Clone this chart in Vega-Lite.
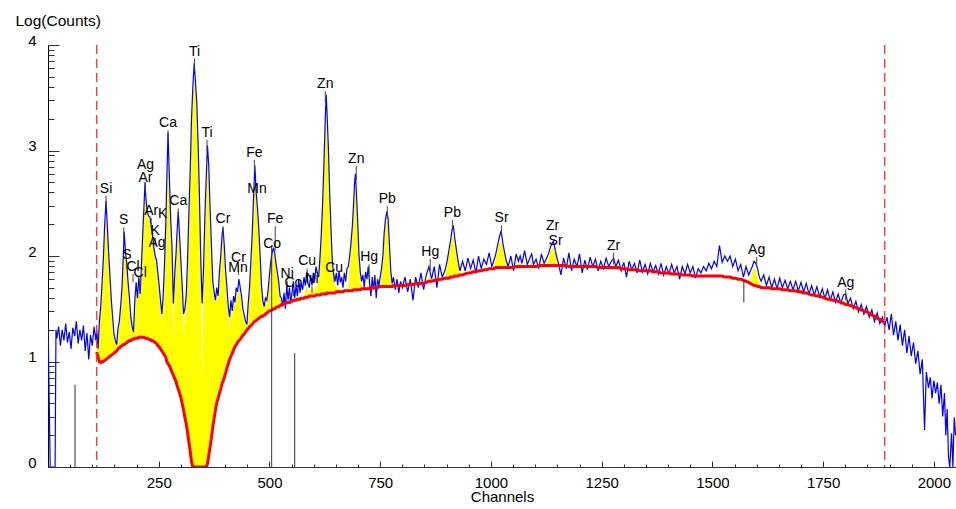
{
"$schema":"https://vega.github.io/schema/vega-lite/v6.json",
"width":908,"height":422,
"autosize":{"type":"none"},
"padding":{"left":48,"top":45,"right":0,"bottom":42},
"background":"white",
"config":{"view":{"stroke":null},"axis":{"grid":false,"labelFont":"Liberation Sans","titleFont":"Liberation Sans"}},
"resolve":{"axis":{"x":"independent","y":"independent"}},
"datasets":{
"spec":[
{"c":0,"s":1.4},{"c":5,"s":0},{"c":16,"s":0},{"c":18,"s":1.3},{"c":20,"s":1.22},{"c":24,"s":1.33},{"c":28,"s":1.15},{"c":32,"s":1.3},{"c":36,"s":1.2},{"c":40,"s":1.36},{"c":44,"s":1.18},{"c":48,"s":1.28},{"c":52,"s":1.12},{"c":56,"s":1.32},{"c":60,"s":1.24},{"c":64,"s":1.38},{"c":68,"s":1.17},{"c":72,"s":1.3},{"c":76,"s":1.2},{"c":80,"s":1.34},{"c":84,"s":1.1},{"c":88,"s":1.27},{"c":92,"s":1.02},{"c":96,"s":1.25},{"c":100,"s":1.15},{"c":104,"s":1.33},{"c":108,"s":1.2},
{"c":110,"s":1.3,"b":1.09,"f":1.3},{"c":113,"s":1.12,"b":1.04,"f":1.12},{"c":116,"s":1.38,"b":1.0,"f":1.3},{"c":119,"s":1.52,"b":0.99,"f":1.48},{"c":122,"s":1.74,"b":1.0,"f":1.7},{"c":125,"s":1.98,"b":1.0,"f":1.95},{"c":128,"s":2.3,"b":1.01,"f":2.25},{"c":131,"s":2.52,"b":1.02,"f":2.42},{"c":134,"s":2.28,"b":1.03,"f":2.25},{"c":137,"s":2.02,"b":1.04,"f":2.0},{"c":140,"s":1.8,"b":1.05,"f":1.78},{"c":143,"s":1.58,"b":1.06,"f":1.55},{"c":146,"s":1.42,"b":1.07,"f":1.38},{"c":149,"s":1.26,"b":1.08,"f":1.25},{"c":152,"s":1.2,"b":1.09,"f":1.18},{"c":155,"s":1.16,"b":1.1,"f":1.15},{"c":158,"s":1.31,"b":1.12,"f":1.28},{"c":161,"s":1.38,"b":1.13,"f":1.35},{"c":164,"s":1.52,"b":1.14,"f":1.5},{"c":167,"s":1.7,"b":1.15,"f":1.68},{"c":170,"s":2.0,"b":1.16,"f":1.95},{"c":172,"s":2.23,"b":1.16,"f":2.12},{"c":175,"s":2.04,"b":1.17,"f":2.0},{"c":178,"s":1.92,"b":1.18,"f":1.88},{"c":181,"s":1.74,"b":1.19,"f":1.72},{"c":184,"s":1.6,"b":1.2,"f":1.55},{"c":187,"s":1.42,"b":1.2,"f":1.4},{"c":190,"s":1.33,"b":1.21,"f":1.3},{"c":193,"s":1.28,"b":1.21,"f":1.27},{"c":196,"s":1.58,"b":1.22,"f":1.55},{"c":199,"s":1.75,"b":1.22,"f":1.7},{"c":202,"s":1.6,"b":1.22,"f":1.58},{"c":205,"s":1.8,"b":1.23,"f":1.75},{"c":208,"s":1.64,"b":1.23,"f":1.62},{"c":211,"s":1.92,"b":1.23,"f":1.9},{"c":214,"s":2.22,"b":1.23,"f":2.18},{"c":217,"s":2.5,"b":1.23,"f":2.45},{"c":219,"s":2.7,"b":1.22,"f":2.6},{"c":221,"s":2.55,"b":1.22,"f":2.5},{"c":224,"s":2.42,"b":1.22,"f":2.38},{"c":227,"s":2.38,"b":1.21,"f":2.35},{"c":230,"s":2.37,"b":1.21,"f":2.33},{"c":233,"s":2.28,"b":1.2,"f":2.25},{"c":236,"s":2.2,"b":1.2,"f":2.18},{"c":239,"s":2.08,"b":1.19,"f":2.05},{"c":242,"s":2.0,"b":1.18,"f":1.97},{"c":245,"s":1.96,"b":1.17,"f":1.93},{"c":248,"s":1.84,"b":1.15,"f":1.8},{"c":251,"s":1.72,"b":1.14,"f":1.68},{"c":254,"s":1.58,"b":1.12,"f":1.5},{"c":257,"s":1.45,"b":1.1,"f":1.38},{"c":260,"s":1.62,"b":1.08,"f":1.58},{"c":263,"s":1.92,"b":1.06,"f":1.9},{"c":266,"s":2.32,"b":1.04,"f":2.3},{"c":268,"s":2.7,"b":1.0,"f":2.65},{"c":271,"s":3.17,"b":0.98,"f":3.08},{"c":274,"s":2.75,"b":0.96,"f":2.72},{"c":277,"s":2.35,"b":0.93,"f":2.32},{"c":280,"s":2.08,"b":0.9,"f":2.02},{"c":283,"s":1.55,"b":0.87,"f":1.2},{"c":286,"s":1.82,"b":0.84,"f":1.78},{"c":289,"s":2.02,"b":0.81,"f":2.0},{"c":291,"s":2.2,"b":0.78,"f":2.18},{"c":294,"s":2.42,"b":0.74,"f":2.35},{"c":297,"s":2.2,"b":0.7,"f":2.18},{"c":300,"s":1.95,"b":0.66,"f":1.92},{"c":303,"s":1.72,"b":0.6,"f":1.7},{"c":306,"s":1.45,"b":0.54,"f":1.23},{"c":309,"s":1.5,"b":0.47,"f":1.45},{"c":312,"s":1.62,"b":0.41,"f":1.6},{"c":315,"s":1.95,"b":0.33,"f":1.92},{"c":318,"s":2.4,"b":0.24,"f":2.38},{"c":321,"s":2.8,"b":0.15,"f":2.78},{"c":324,"s":3.3,"b":0.05,"f":3.25},{"c":327,"s":3.6,"b":0,"f":3.55},{"c":330,"s":3.83,"b":0,"f":3.7},{"c":333,"s":3.65,"b":0,"f":3.6},{"c":336,"s":3.45,"b":0,"f":3.4},{"c":339,"s":3.05,"b":0,"f":3.0},{"c":342,"s":2.55,"b":0,"f":2.5},{"c":345,"s":1.95,"b":0,"f":1.9},{"c":348,"s":1.55,"b":0,"f":0.78},{"c":351,"s":1.86,"b":0,"f":1.8},{"c":354,"s":2.35,"b":0,"f":2.3},{"c":357,"s":2.72,"b":0,"f":2.68},{"c":360,"s":3.05,"b":0.03,"f":2.95},{"c":363,"s":2.85,"b":0.11,"f":2.8},{"c":366,"s":2.45,"b":0.19,"f":2.42},{"c":369,"s":2.1,"b":0.28,"f":2.05},{"c":372,"s":1.76,"b":0.38,"f":1.72},{"c":375,"s":1.66,"b":0.46,"f":1.6},{"c":378,"s":1.58,"b":0.54,"f":1.55},{"c":381,"s":1.7,"b":0.61,"f":1.62},{"c":384,"s":1.62,"b":0.65,"f":1.58},{"c":387,"s":1.85,"b":0.7,"f":1.8},{"c":390,"s":2.0,"b":0.74,"f":1.97},{"c":393,"s":2.2,"b":0.79,"f":2.15},{"c":395,"s":2.27,"b":0.81,"f":2.2},{"c":398,"s":2.1,"b":0.85,"f":2.05},{"c":401,"s":1.86,"b":0.89,"f":1.82},{"c":404,"s":1.7,"b":0.94,"f":1.65},{"c":407,"s":1.52,"b":0.98,"f":1.48},{"c":410,"s":1.42,"b":1.02,"f":1.27},{"c":413,"s":1.58,"b":1.05,"f":1.52},{"c":416,"s":1.48,"b":1.08,"f":1.42},{"c":419,"s":1.62,"b":1.11,"f":1.58},{"c":422,"s":1.56,"b":1.14,"f":1.52},{"c":425,"s":1.7,"b":1.16,"f":1.65},{"c":428,"s":1.66,"b":1.18,"f":1.62},{"c":431,"s":1.78,"b":1.2,"f":1.72},{"c":434,"s":1.7,"b":1.21,"f":1.66},{"c":437,"s":1.62,"b":1.23,"f":1.58},{"c":440,"s":1.5,"b":1.25,"f":1.45},{"c":443,"s":1.44,"b":1.26,"f":1.4},{"c":446,"s":1.38,"b":1.28,"f":1.35},{"c":449,"s":1.35,"b":1.3,"f":1.33},{"c":452,"s":1.55,"b":1.31,"f":1.52},{"c":455,"s":1.7,"b":1.33,"f":1.68},{"c":458,"s":1.95,"b":1.34,"f":1.92},{"c":461,"s":2.2,"b":1.35,"f":2.15},{"c":464,"s":2.55,"b":1.37,"f":2.5},{"c":467,"s":2.86,"b":1.38,"f":2.75},{"c":470,"s":2.6,"b":1.39,"f":2.55},{"c":473,"s":2.45,"b":1.4,"f":2.42},{"c":476,"s":2.25,"b":1.41,"f":2.2},{"c":479,"s":2.0,"b":1.42,"f":1.97},{"c":482,"s":1.72,"b":1.43,"f":1.7},{"c":485,"s":1.58,"b":1.43,"f":1.55},{"c":488,"s":1.52,"b":1.44,"f":1.5},{"c":491,"s":1.6,"b":1.45,"f":1.55},{"c":494,"s":1.58,"b":1.46,"f":1.55},{"c":497,"s":1.68,"b":1.47,"f":1.65},{"c":500,"s":1.82,"b":1.48,"f":1.8},{"c":503,"s":1.95,"b":1.48,"f":1.92},{"c":506,"s":2.03,"b":1.49,"f":2.0},{"c":509,"s":2.08,"b":1.5,"f":2.02},{"c":512,"s":2.02,"b":1.5,"f":1.98},{"c":515,"s":1.92,"b":1.51,"f":1.88},{"c":518,"s":1.84,"b":1.52,"f":1.8},{"c":521,"s":1.75,"b":1.52,"f":1.7},{"c":524,"s":1.62,"b":1.53,"f":1.6},{"c":527,"s":1.6,"b":1.54,"f":1.56},{"c":530,"s":1.52,"b":1.54,"f":1.54},
{"c":533,"s":1.65,"b":1.55},{"c":536,"s":1.5,"b":1.55},{"c":539,"s":1.72,"b":1.56},{"c":542,"s":1.58,"b":1.56},{"c":545,"s":1.7,"b":1.56},{"c":548,"s":1.55,"b":1.57},{"c":551,"s":1.66,"b":1.57},{"c":554,"s":1.76,"b":1.58},{"c":557,"s":1.6,"b":1.58},{"c":560,"s":1.72,"b":1.58},{"c":563,"s":1.62,"b":1.59},{"c":566,"s":1.78,"b":1.59},{"c":569,"s":1.65,"b":1.59},{"c":572,"s":1.74,"b":1.6},{"c":575,"s":1.68,"b":1.6},{"c":578,"s":1.8,"b":1.6,"f":1.6},{"c":581,"s":1.72,"b":1.61,"f":1.68},{"c":584,"s":1.85,"b":1.61,"f":1.74},{"c":587,"s":1.74,"b":1.61,"f":1.66},{"c":590,"s":1.7,"b":1.62,"f":1.64},{"c":593,"s":1.82,"b":1.62,"f":1.7},{"c":596,"s":1.72,"b":1.62,"f":1.66},{"c":599,"s":1.84,"b":1.62,"f":1.72},{"c":602,"s":1.76,"b":1.62,"f":1.66},{"c":605,"s":1.9,"b":1.63,"f":1.7},{"c":608,"s":1.84,"b":1.63,"f":1.72},{"c":611,"s":1.8,"b":1.63,"f":1.78},{"c":614,"s":1.98,"b":1.63,"f":1.95},{"c":617,"s":2.2,"b":1.64,"f":2.18},{"c":620,"s":2.5,"b":1.64,"f":2.48},{"c":623,"s":2.88,"b":1.64,"f":2.85},{"c":626,"s":3.3,"b":1.64,"f":3.25},{"c":628,"s":3.53,"b":1.64,"f":3.42},{"c":630,"s":3.35,"b":1.65,"f":3.3},{"c":633,"s":3.03,"b":1.65,"f":3.0},{"c":636,"s":2.6,"b":1.65,"f":2.58},{"c":639,"s":2.25,"b":1.65,"f":2.22},{"c":642,"s":1.95,"b":1.65,"f":1.92},{"c":645,"s":1.82,"b":1.65,"f":1.8},{"c":648,"s":1.76,"b":1.65,"f":1.72},{"c":651,"s":1.84,"b":1.66,"f":1.7},{"c":654,"s":1.72,"b":1.66,"f":1.68},{"c":657,"s":1.86,"b":1.66,"f":1.7},{"c":660,"s":1.75,"b":1.66,"f":1.66},{"c":663,"s":1.8,"b":1.66},{"c":666,"s":1.7,"b":1.66},{"c":669,"s":1.84,"b":1.67},{"c":672,"s":1.76,"b":1.67},{"c":675,"s":1.88,"b":1.67},{"c":678,"s":1.9,"b":1.67,"f":1.67},{"c":681,"s":2.0,"b":1.67,"f":1.95},{"c":684,"s":2.12,"b":1.67,"f":2.08},{"c":687,"s":2.28,"b":1.67,"f":2.25},{"c":690,"s":2.5,"b":1.68,"f":2.45},{"c":692,"s":2.68,"b":1.68,"f":2.6},{"c":694,"s":2.78,"b":1.68,"f":2.65},{"c":696,"s":2.62,"b":1.68,"f":2.55},{"c":699,"s":2.35,"b":1.68,"f":2.3},{"c":702,"s":2.02,"b":1.68,"f":1.98},{"c":705,"s":1.85,"b":1.68,"f":1.8},{"c":708,"s":1.76,"b":1.69,"f":1.72},{"c":711,"s":1.82,"b":1.69,"f":1.69},{"c":714,"s":1.7,"b":1.69},{"c":717,"s":1.85,"b":1.69},{"c":720,"s":1.78,"b":1.69,"f":1.69},{"c":723,"s":1.9,"b":1.69,"f":1.78},{"c":726,"s":1.75,"b":1.69,"f":1.72},{"c":729,"s":1.62,"b":1.7,"f":1.7},{"c":732,"s":1.8,"b":1.7},{"c":735,"s":1.68,"b":1.7},{"c":738,"s":1.82,"b":1.7},{"c":741,"s":1.6,"b":1.7},{"c":744,"s":1.78,"b":1.7},{"c":747,"s":1.72,"b":1.71},{"c":750,"s":1.8,"b":1.71,"f":1.71},{"c":753,"s":1.88,"b":1.71,"f":1.85},{"c":756,"s":2.0,"b":1.71,"f":1.98},{"c":759,"s":2.22,"b":1.71,"f":2.18},{"c":762,"s":2.35,"b":1.71,"f":2.3},{"c":765,"s":2.42,"b":1.71,"f":2.35},{"c":768,"s":2.35,"b":1.71,"f":2.3},{"c":771,"s":2.1,"b":1.71,"f":2.06},{"c":774,"s":1.85,"b":1.71,"f":1.8},{"c":777,"s":1.74,"b":1.71,"f":1.71},{"c":780,"s":1.8,"b":1.72},{"c":784,"s":1.68,"b":1.72},{"c":788,"s":1.78,"b":1.72},{"c":792,"s":1.65,"b":1.72},{"c":796,"s":1.76,"b":1.72},{"c":800,"s":1.7,"b":1.72},
{"c":806,"s":1.8,"b":1.72},{"c":812,"s":1.66,"b":1.73},{"c":818,"s":1.78,"b":1.73},{"c":824,"s":1.58,"b":1.73},{"c":830,"s":1.8,"b":1.74},{"c":836,"s":1.7,"b":1.74},{"c":842,"s":1.84,"b":1.74},{"c":848,"s":1.68,"b":1.74},{"c":854,"s":1.82,"b":1.75,"f":1.75},{"c":860,"s":1.9,"b":1.76,"f":1.82},{"c":866,"s":1.78,"b":1.76,"f":1.76},{"c":872,"s":1.9,"b":1.77},{"c":878,"s":1.7,"b":1.77},{"c":884,"s":1.92,"b":1.78},{"c":890,"s":1.8,"b":1.78},{"c":896,"s":1.86,"b":1.79,"f":1.79},{"c":901,"s":1.95,"b":1.79,"f":1.92},{"c":905,"s":2.05,"b":1.79,"f":2.02},{"c":909,"s":2.15,"b":1.8,"f":2.12},{"c":912,"s":2.24,"b":1.8,"f":2.18},{"c":915,"s":2.29,"b":1.8,"f":2.2},{"c":918,"s":2.18,"b":1.81,"f":2.12},{"c":922,"s":2.06,"b":1.81,"f":2.03},{"c":926,"s":1.95,"b":1.81,"f":1.92},{"c":930,"s":1.86,"b":1.82,"f":1.82},{"c":936,"s":1.95,"b":1.82},{"c":942,"s":1.86,"b":1.83},{"c":948,"s":1.98,"b":1.84},{"c":954,"s":1.88,"b":1.84},{"c":960,"s":1.96,"b":1.85},{"c":966,"s":1.84,"b":1.85},{"c":972,"s":2.0,"b":1.86},{"c":978,"s":1.88,"b":1.86},{"c":984,"s":1.97,"b":1.87},{"c":990,"s":1.92,"b":1.87},{"c":996,"s":2.03,"b":1.88},{"c":1002,"s":1.9,"b":1.88},{"c":1007,"s":1.96,"b":1.88,"f":1.88},{"c":1011,"s":2.02,"b":1.89,"f":1.98},{"c":1015,"s":2.1,"b":1.89,"f":2.06},{"c":1019,"s":2.18,"b":1.89,"f":2.12},{"c":1023,"s":2.24,"b":1.89,"f":2.15},{"c":1027,"s":2.12,"b":1.89,"f":2.08},{"c":1031,"s":2.03,"b":1.89,"f":2.0},{"c":1035,"s":1.95,"b":1.89,"f":1.93},{"c":1039,"s":1.9,"b":1.89,"f":1.89},{"c":1045,"s":2.0,"b":1.89},{"c":1051,"s":1.86,"b":1.89},{"c":1057,"s":2.02,"b":1.9},{"c":1062,"s":1.95,"b":1.9,"f":1.9},{"c":1066,"s":2.0,"b":1.9,"f":1.96},{"c":1070,"s":1.93,"b":1.9,"f":1.9},{"c":1076,"s":2.05,"b":1.9},{"c":1082,"s":1.92,"b":1.9},{"c":1088,"s":1.98,"b":1.9,"f":1.9},{"c":1092,"s":2.02,"b":1.9,"f":1.95},{"c":1096,"s":1.92,"b":1.9,"f":1.9},{"c":1102,"s":1.97,"b":1.9},{"c":1108,"s":1.88,"b":1.91},{"c":1114,"s":2.02,"b":1.91},{"c":1120,"s":1.93,"b":1.91},{"c":1126,"s":1.98,"b":1.91,"f":1.91},{"c":1130,"s":2.02,"b":1.91,"f":1.98},{"c":1134,"s":2.08,"b":1.91,"f":2.04},{"c":1138,"s":2.12,"b":1.91,"f":2.07},{"c":1141,"s":2.14,"b":1.91,"f":2.08},{"c":1144,"s":2.08,"b":1.91,"f":2.04},{"c":1148,"s":2.0,"b":1.91,"f":1.98},{"c":1152,"s":1.94,"b":1.91,"f":1.91},{"c":1158,"s":1.82,"b":1.91},{"c":1164,"s":1.98,"b":1.91},{"c":1170,"s":1.88,"b":1.91},{"c":1176,"s":2.03,"b":1.9},{"c":1182,"s":1.86,"b":1.9},{"c":1188,"s":1.97,"b":1.9},{"c":1194,"s":1.9,"b":1.9},{"c":1200,"s":2.02,"b":1.9},{"c":1206,"s":1.84,"b":1.9},{"c":1212,"s":1.96,"b":1.9},{"c":1218,"s":1.87,"b":1.9},{"c":1224,"s":1.99,"b":1.9},{"c":1230,"s":1.9,"b":1.9},{"c":1236,"s":1.97,"b":1.9},{"c":1242,"s":1.86,"b":1.89},{"c":1248,"s":1.95,"b":1.89},{"c":1254,"s":1.88,"b":1.89},{"c":1260,"s":1.98,"b":1.89},{"c":1266,"s":1.9,"b":1.89},{"c":1272,"s":1.95,"b":1.89,"f":1.89},{"c":1277,"s":1.98,"b":1.89,"f":1.93},{"c":1282,"s":1.9,"b":1.89,"f":1.89},{"c":1288,"s":1.96,"b":1.89},{"c":1294,"s":1.86,"b":1.88},{"c":1300,"s":1.94,"b":1.88},{"c":1306,"s":1.8,"b":1.88},{"c":1312,"s":1.95,"b":1.87},{"c":1318,"s":1.87,"b":1.87},{"c":1324,"s":1.93,"b":1.87},{"c":1330,"s":1.84,"b":1.87},{"c":1336,"s":1.96,"b":1.86},{"c":1342,"s":1.85,"b":1.86},{"c":1348,"s":1.92,"b":1.86},{"c":1354,"s":1.83,"b":1.86},{"c":1360,"s":1.93,"b":1.86},{"c":1366,"s":1.85,"b":1.85},{"c":1372,"s":1.91,"b":1.85},{"c":1378,"s":1.83,"b":1.85},{"c":1384,"s":1.93,"b":1.84},{"c":1390,"s":1.82,"b":1.84},{"c":1396,"s":1.9,"b":1.84},{"c":1402,"s":1.83,"b":1.84},{"c":1408,"s":1.92,"b":1.83},{"c":1414,"s":1.84,"b":1.83},{"c":1420,"s":1.9,"b":1.83},{"c":1426,"s":1.78,"b":1.83},{"c":1432,"s":1.9,"b":1.82},{"c":1438,"s":1.83,"b":1.82},{"c":1444,"s":1.92,"b":1.82},{"c":1450,"s":1.84,"b":1.82},{"c":1456,"s":1.9,"b":1.81},{"c":1462,"s":1.79,"b":1.81},{"c":1468,"s":1.88,"b":1.81},{"c":1474,"s":1.84,"b":1.81},{"c":1480,"s":1.9,"b":1.81},{"c":1486,"s":1.86,"b":1.81},{"c":1492,"s":1.93,"b":1.81},{"c":1498,"s":1.88,"b":1.81},{"c":1504,"s":1.95,"b":1.81},{"c":1510,"s":1.9,"b":1.81},{"c":1516,"s":2.1,"b":1.81},{"c":1522,"s":1.94,"b":1.81},{"c":1528,"s":2.0,"b":1.8},{"c":1534,"s":1.95,"b":1.8},{"c":1540,"s":2.0,"b":1.8},{"c":1546,"s":1.9,"b":1.79},{"c":1552,"s":1.97,"b":1.79},{"c":1558,"s":1.86,"b":1.78},{"c":1564,"s":1.92,"b":1.78},{"c":1570,"s":1.8,"b":1.77},{"c":1576,"s":1.9,"b":1.76},{"c":1582,"s":1.82,"b":1.75},{"c":1586,"s":1.86,"b":1.74,"f":1.74},{"c":1590,"s":1.9,"b":1.73,"f":1.84},{"c":1594,"s":1.95,"b":1.72,"f":1.9},{"c":1598,"s":1.93,"b":1.72,"f":1.86},{"c":1602,"s":1.88,"b":1.71,"f":1.8},{"c":1606,"s":1.8,"b":1.71,"f":1.75},{"c":1610,"s":1.76,"b":1.7,"f":1.7},{"c":1616,"s":1.82,"b":1.7},{"c":1622,"s":1.72,"b":1.7},{"c":1628,"s":1.8,"b":1.7},{"c":1634,"s":1.7,"b":1.69},{"c":1640,"s":1.78,"b":1.69},{"c":1646,"s":1.69,"b":1.69},{"c":1652,"s":1.79,"b":1.69},{"c":1658,"s":1.7,"b":1.68},{"c":1664,"s":1.77,"b":1.68},{"c":1670,"s":1.69,"b":1.68},{"c":1676,"s":1.76,"b":1.67},{"c":1682,"s":1.68,"b":1.67},{"c":1688,"s":1.76,"b":1.67},{"c":1694,"s":1.67,"b":1.66},{"c":1700,"s":1.75,"b":1.66},{"c":1706,"s":1.66,"b":1.65},{"c":1712,"s":1.74,"b":1.65},{"c":1718,"s":1.64,"b":1.64},{"c":1724,"s":1.72,"b":1.63},{"c":1730,"s":1.63,"b":1.63},{"c":1736,"s":1.71,"b":1.62},{"c":1742,"s":1.61,"b":1.62},{"c":1748,"s":1.69,"b":1.61},{"c":1754,"s":1.6,"b":1.6},{"c":1760,"s":1.68,"b":1.59},{"c":1766,"s":1.58,"b":1.59},{"c":1772,"s":1.66,"b":1.58},{"c":1778,"s":1.56,"b":1.58},{"c":1784,"s":1.64,"b":1.57},{"c":1790,"s":1.55,"b":1.56},{"c":1796,"s":1.63,"b":1.55,"f":1.55},{"c":1801,"s":1.64,"b":1.54,"f":1.6},{"c":1806,"s":1.55,"b":1.54,"f":1.54},{"c":1812,"s":1.6,"b":1.53},{"c":1818,"s":1.5,"b":1.52},{"c":1824,"s":1.57,"b":1.51},{"c":1830,"s":1.47,"b":1.5},{"c":1836,"s":1.54,"b":1.49},{"c":1842,"s":1.45,"b":1.48},{"c":1848,"s":1.52,"b":1.47},{"c":1854,"s":1.42,"b":1.46},{"c":1860,"s":1.49,"b":1.44},{"c":1866,"s":1.38,"b":1.43},{"c":1872,"s":1.46,"b":1.41},{"c":1878,"s":1.36,"b":1.4},{"c":1884,"s":1.42,"b":1.38},{"c":1889,"s":1.33,"b":1.37},
{"c":1894,"s":1.42},{"c":1899,"s":1.3},{"c":1904,"s":1.45},{"c":1909,"s":1.25},{"c":1914,"s":1.38},{"c":1919,"s":1.2},{"c":1924,"s":1.35},{"c":1929,"s":1.15},{"c":1934,"s":1.3},{"c":1939,"s":1.08},{"c":1944,"s":1.24},{"c":1949,"s":1.05},{"c":1954,"s":1.18},{"c":1959,"s":0.98},{"c":1964,"s":1.1},{"c":1969,"s":0.88},{"c":1974,"s":1.02},{"c":1979,"s":0.35},{"c":1983,"s":0.9},{"c":1988,"s":0.75},{"c":1992,"s":0.85},{"c":1996,"s":0.65},{"c":2000,"s":0.82},{"c":2004,"s":0.7},{"c":2008,"s":0.8},{"c":2012,"s":0.6},{"c":2016,"s":0.78},{"c":2020,"s":0.48},{"c":2024,"s":0.7},{"c":2027,"s":0.3},{"c":2030,"s":0.55},{"c":2033,"s":0.1},{"c":2036,"s":0},{"c":2040,"s":0.32},{"c":2043,"s":0},{"c":2046,"s":0.47},{"c":2049,"s":0.3}
],
"labels":[
{"c":131,"t":"Si","y":2.6,"p":2.45},{"c":171,"t":"S","y":2.3,"p":2.15},{"c":178,"t":"S","y":1.97,"p":1.88},{"c":192,"t":"Cl","y":1.86,"p":1.75},{"c":208,"t":"Cl","y":1.8,"p":1.7},{"c":220,"t":"Ag","y":2.82},{"c":220,"t":"Ar","y":2.7,"p":2.6},{"c":233,"t":"Ar","y":2.39,"p":2.3},{"c":259,"t":"K","y":2.36},{"c":242,"t":"K","y":2.2,"p":2.1},{"c":246,"t":"Ag","y":2.09},{"c":271,"t":"Ca","y":3.22,"p":3.1},{"c":294,"t":"Ca","y":2.48,"p":2.38},{"c":331,"t":"Ti","y":3.9,"p":3.75},{"c":359,"t":"Ti","y":3.13,"p":3.0},{"c":395,"t":"Cr","y":2.31,"p":2.2},{"c":430,"t":"Cr","y":1.94,"p":1.82},{"c":429,"t":"Mn","y":1.85},{"c":466,"t":"Fe","y":2.94,"p":2.8},{"c":472,"t":"Mn","y":2.6},{"c":513,"t":"Fe","y":2.31,"p":2.05},{"c":506,"t":"Co","y":2.08},{"c":540,"t":"Ni","y":1.79,"p":1.68},{"c":554,"t":"Co","y":1.71,"p":1.62},{"c":585,"t":"Cu","y":1.91,"p":1.75},{"c":596,"t":"Ni","y":1.74,"p":1.65},{"c":646,"t":"Cu","y":1.85,"p":1.75},{"c":626,"t":"Zn","y":3.59,"p":3.45},{"c":696,"t":"Zn","y":2.88,"p":2.72},{"c":725,"t":"Hg","y":1.95,"p":1.8},{"c":766,"t":"Pb","y":2.5,"p":2.35},{"c":863,"t":"Hg","y":2.0,"p":1.86},{"c":913,"t":"Pb","y":2.37,"p":2.25},{"c":1024,"t":"Sr","y":2.32,"p":2.18},{"c":1139,"t":"Zr","y":2.25},{"c":1146,"t":"Sr","y":2.1,"p":2.02},{"c":1277,"t":"Zr","y":2.06,"p":1.92},{"c":1600,"t":"Ag","y":2.02,"p":1.9},{"c":1801,"t":"Ag","y":1.71,"p":1.58}
],
"vlines":[{"c":61,"y1":0,"y2":0.78},{"c":505,"y1":0,"y2":2.1},{"c":557,"y1":0,"y2":1.08},{"c":1571,"y1":1.56,"y2":1.77}],
"roi":[{"c":110},{"c":1889}]
},
"layer":[
{"data":{"name":"spec"},
 "mark":{"type":"area","color":"#ffff00","clip":true},
 "encoding":{
  "x":{"field":"c","type":"quantitative","title":"Channels","scale":{"domain":[0,2050],"nice":false,"zero":false},
   "axis":{"values":[0,50,100,150,200,250,300,350,400,450,500,550,600,650,700,750,800,850,900,950,1000,1050,1100,1150,1200,1250,1300,1350,1400,1450,1500,1550,1600,1650,1700,1750,1800,1850,1900,1950,2000],
    "format":"d","labelExpr":"datum.value % 250 === 0 && datum.value > 0 ? datum.label : ''",
    "tickSize":{"condition":{"test":"datum.value % 250 === 0","value":-6},"value":-3},
    "labelPadding":14,"labelFontSize":15,"labelColor":"#000","labelOverlap":false,"labelFlush":false,
    "domainColor":"#333","tickColor":"#333",
    "titleFontSize":15,"titleFontWeight":"normal","titleColor":"#000","titleBaseline":"alphabetic","titleY":34}},
  "y":{"field":"f","type":"quantitative","title":"Log(Counts)","scale":{"domain":[0,4],"nice":false,"zero":false},
   "axis":{"values":[0,1,2,3,4],"format":"d","tickSize":-11,
    "labelPadding":23,"labelFontSize":15,"labelColor":"#000","labelOverlap":false,"labelFlush":false,"labelBaseline":"alphabetic",
    "domainColor":"#000","tickColor":"#333",
    "titleAngle":0,"titleAlign":"left","titleBaseline":"alphabetic","titleX":-33,"titleY":-20,
    "titleFontSize":15.5,"titleFontWeight":"normal","titleColor":"#000"}},
  "y2":{"field":"b"}
 }},
{"data":{"name":"spec"},
 "mark":{"type":"line","color":"#0000ff","strokeWidth":1.2,"clip":true},
 "encoding":{
  "x":{"field":"c","type":"quantitative","axis":null,"scale":{"domain":[0,2050],"nice":false,"zero":false}},
  "y":{"field":"s","type":"quantitative","scale":{"domain":[0,4],"nice":false,"zero":false},
   "axis":{"orient":"left","values":[0.30103,0.47712,0.60206,0.69897,0.77815,0.8451,0.90309,0.95424,1.30103,1.47712,1.60206,1.69897,1.77815,1.8451,1.90309,1.95424,2.30103,2.47712,2.60206,2.69897,2.77815,2.8451,2.90309,2.95424,3.30103,3.47712,3.60206,3.69897,3.77815,3.8451,3.90309,3.95424],
    "labels":false,"domain":false,"tickSize":-6,"tickColor":"#333","title":null}}}},
{"data":{"name":"spec"},
 "mark":{"type":"line","color":"#ff0000","strokeWidth":3,"clip":true},
 "encoding":{
  "x":{"field":"c","type":"quantitative","axis":null,"scale":{"domain":[0,2050],"nice":false,"zero":false}},
  "y":{"field":"b","type":"quantitative","axis":null,"scale":{"domain":[0,4],"nice":false,"zero":false}}}},
{"data":{"name":"roi"},
 "mark":{"type":"rule","color":"#ff3030","strokeWidth":1.3,"strokeDash":[9,5]},
 "encoding":{
  "x":{"field":"c","type":"quantitative","axis":null,"scale":{"domain":[0,2050],"nice":false,"zero":false}}}},
{"data":{"name":"vlines"},
 "mark":{"type":"rule","color":"#333","strokeWidth":1},
 "encoding":{
  "x":{"field":"c","type":"quantitative","axis":null,"scale":{"domain":[0,2050],"nice":false,"zero":false}},
  "y":{"field":"y1","type":"quantitative","axis":null,"scale":{"domain":[0,4],"nice":false,"zero":false}},
  "y2":{"field":"y2"}}},
{"data":{"name":"labels"},
 "transform":[{"filter":"isValid(datum.p)"}],
 "mark":{"type":"rule","color":"#444","strokeWidth":1,"yOffset":3},
 "encoding":{
  "x":{"field":"c","type":"quantitative","axis":null,"scale":{"domain":[0,2050],"nice":false,"zero":false}},
  "y":{"field":"y","type":"quantitative","axis":null,"scale":{"domain":[0,4],"nice":false,"zero":false}},
  "y2":{"field":"p"}}},
{"data":{"name":"labels"},
 "mark":{"type":"text","font":"Liberation Sans","fontSize":14,"align":"center","baseline":"alphabetic","color":"#000"},
 "encoding":{
  "x":{"field":"c","type":"quantitative","axis":null,"scale":{"domain":[0,2050],"nice":false,"zero":false}},
  "y":{"field":"y","type":"quantitative","axis":null,"scale":{"domain":[0,4],"nice":false,"zero":false}},
  "text":{"field":"t"}}}
]
}
